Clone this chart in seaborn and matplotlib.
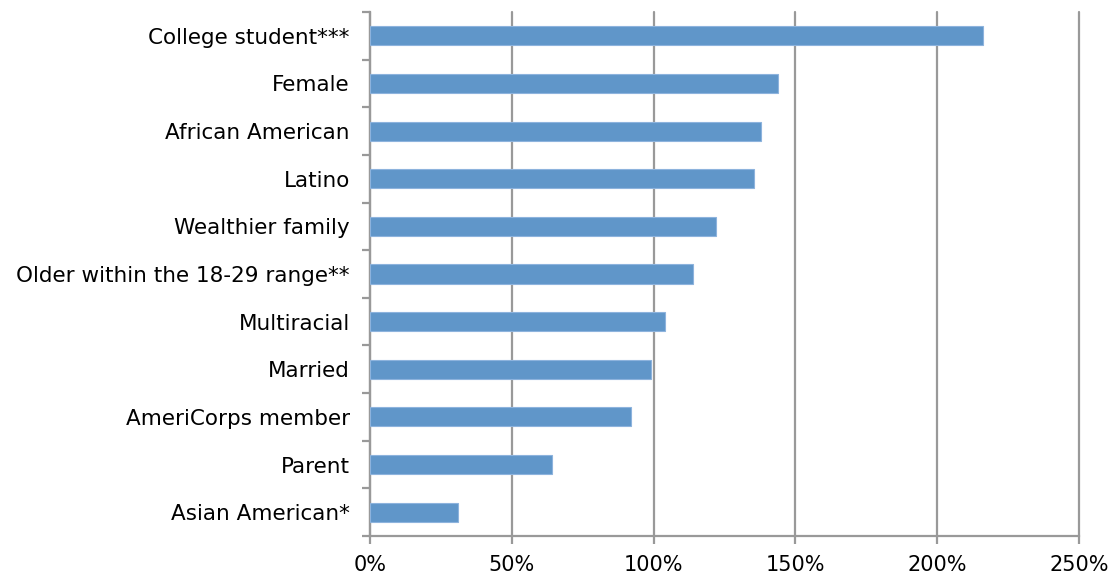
import matplotlib
matplotlib.use("Agg")
import matplotlib.pyplot as plt
import seaborn as sns
import pandas as pd
from matplotlib.ticker import FixedLocator, FuncFormatter

categories = ["College student***", "Female", "African American", "Latino",
              "Wealthier family", "Older within the 18-29 range**", "Multiracial",
              "Married", "AmeriCorps member", "Parent", "Asian American*"]
values = [216, 144, 138, 135.5, 122, 114, 104, 99, 92, 64, 31]
x_ticks = [0, 50, 100, 150, 200, 250]

df = pd.DataFrame({"category": categories, "value": values})

sns.set_style("white")
plt.rcParams['font.family'] = ['DejaVu Sans']

fig = plt.figure(figsize=(11.16, 5.76), dpi=100)
ax = fig.add_axes([370/1116, 1-536/576, (1079-370)/1116, (536-12)/576])

sns.barplot(data=df, x="value", y="category", orient="h", color="#6096C9",
            width=0.4, edgecolor="#8DB3DD", linewidth=0.8, saturation=1, ax=ax, zorder=3)

ax.set_xlim(0, 250)
ax.set_ylim(len(categories) - 0.5, -0.5)
ax.xaxis.set_major_locator(FixedLocator(x_ticks))
ax.xaxis.set_major_formatter(FuncFormatter(lambda v, p: f"{int(v)}%"))
ax.grid(axis="x", color="#999999", linewidth=1.6, zorder=0)
ax.set_axisbelow(True)
for g in ax.get_xgridlines():
    g.set_clip_on(False)

ax.set_xlabel("")
ax.set_ylabel("")
for s in ["top", "right"]:
    ax.spines[s].set_visible(False)
for s in ["left", "bottom"]:
    ax.spines[s].set_color("#999999")
    ax.spines[s].set_linewidth(1.6)

ax.yaxis.set_minor_locator(FixedLocator([i - 0.5 for i in range(len(categories) + 1)]))
ax.tick_params(axis="y", which="major", length=0, pad=14.5, labelsize=15.5, labelcolor="#000000")
ax.tick_params(axis="y", which="minor", length=6, width=1.6, color="#999999", left=True)
ax.tick_params(axis="x", which="major", length=6, width=1.6, color="#999999", bottom=True,
               labelsize=15, labelcolor="#000000", pad=8)

fig.savefig("out.png", dpi=100, facecolor="white")
